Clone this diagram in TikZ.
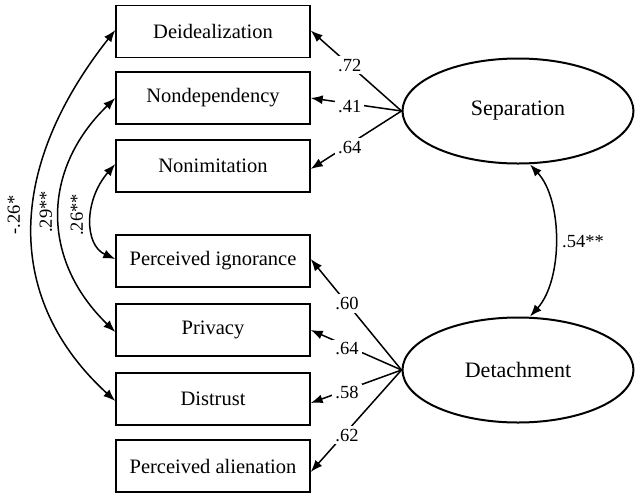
\documentclass[tikz,border=0pt]{standalone}
\usepackage{fontspec}
\setmainfont{Liberation Serif}
\usetikzlibrary{shapes.geometric,arrows.meta}
\begin{document}
\begin{tikzpicture}[x=1pt,y=-1pt,
  obs/.style={draw,line width=1.4pt,minimum width=194pt,minimum height=52pt,inner sep=0pt,font=\fontsize{20.5}{24}\selectfont},
  lat/.style={draw,ellipse,line width=2pt,minimum width=231pt,minimum height=105pt,inner sep=0pt,font=\fontsize{22}{26}\selectfont},
  lab/.style={fill=white,inner sep=3pt,font=\fontsize{18.5}{22}\selectfont},
  arr/.style={line width=1.5pt,-{Latex[length=12pt,width=9pt]}},
  darr/.style={line width=1.5pt,{Latex[length=12pt,width=9pt]}-{Latex[length=12pt,width=9pt]}}]
\useasboundingbox (0,0) rectangle (641,499);
\node[obs] (b1) at (213,31.5) {Deidealization};
\node[obs] (b2) at (213,98) {Nondependency};
\node[obs] (b3) at (213,166) {Nonimitation};
\node[obs] (b4) at (213,261) {Perceived ignorance};
\node[obs] (b5) at (213,330) {Privacy};
\node[obs] (b6) at (213,399) {Distrust};
\node[obs] (b7) at (213,466) {Perceived alienation};
\node[lat] (sep) at (518,111) {Separation};
\node[lat] (det) at (518,370) {Detachment};
% loadings
\draw[arr] (sep.west) -- node[lab,pos=0.57]{.72} ([yshift=1pt]b1.east);
\draw[arr] (sep.west) -- node[lab,pos=0.57,yshift=-3pt]{.41} (b2.east);
\draw[arr] (sep.west) -- node[lab,pos=0.57,yshift=-3pt]{.64} ([yshift=-3pt]b3.east);
\draw[arr] (det.west) -- node[lab,pos=0.6]{.60} ([yshift=2pt]b4.east);
\draw[arr] (det.west) -- node[lab,pos=0.6,yshift=-3pt]{.64} (b5.east);
\draw[arr] (det.west) -- node[lab,pos=0.6,yshift=-3pt]{.58} ([yshift=-4pt]b6.east);
\draw[arr] (det.west) -- node[lab,pos=0.6,yshift=-4pt]{.62} ([yshift=-6pt]b7.east);
% correlations
\draw[darr] ([yshift=1.5pt]b1.west) .. controls (5,170) and (5,300) .. ([yshift=-2pt]b6.west);
\draw[darr] (b2.west) .. controls (41,170) and (41,260) .. ([yshift=-2pt]b5.west);
\draw[darr] ([yshift=2pt]b3.west) .. controls (84,200) and (84,245) .. ([yshift=2pt]b4.west);
\draw[darr] ([xshift=12pt]sep.south) .. controls (563,200) and (563,280) .. ([xshift=12pt]det.north);
\node[lab,fill=none,rotate=90] (c1) at (14,215) {-.26*};
\node[lab,fill=none,rotate=90] (c2) at (46,212) {.29**};
\node[lab,fill=none,rotate=90] (c3) at (77,215) {.26**};
\node[lab,fill=none] (c4) at (583,242) {.54**};
\end{tikzpicture}
\end{document}
